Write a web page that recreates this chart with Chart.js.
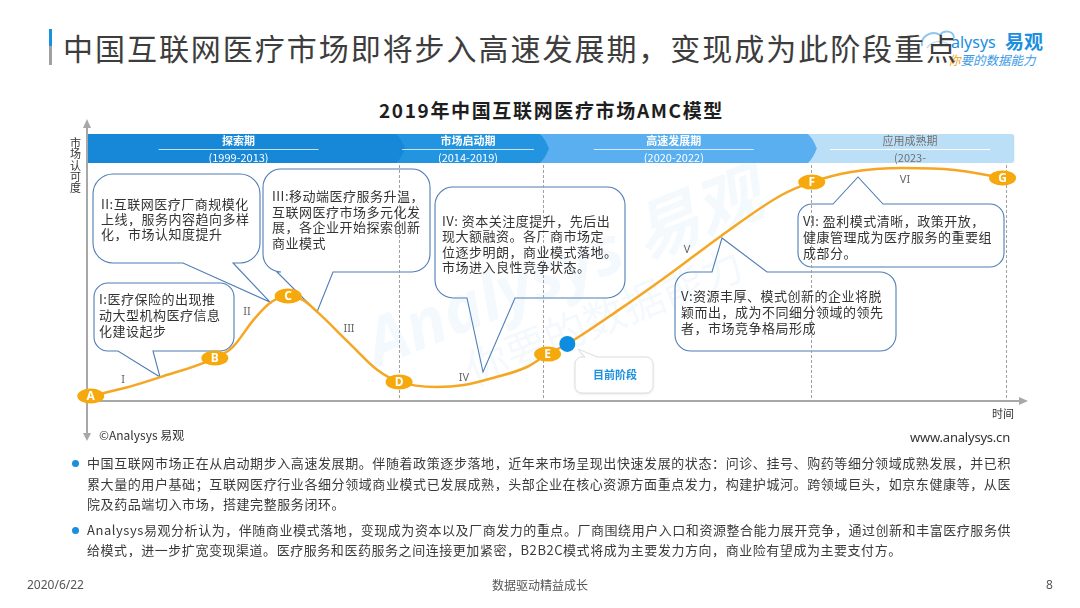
<!DOCTYPE html>
<html><head><meta charset="utf-8">
<script src="https://cdn.jsdelivr.net/npm/chart.js@4.4.1/dist/chart.umd.min.js"></script>
<style>
html,body{margin:0;padding:0;background:#fff;}
body{width:1080px;height:608px;position:relative;overflow:hidden;font-family:"Noto Sans CJK SC","Noto Sans",sans-serif;}
.abs{position:absolute;white-space:nowrap;}
#wrap{position:absolute;left:0;top:0;width:1080px;height:608px;}
.p{font-size:13px;line-height:20px;color:#3a3a3a;left:87px;}
.dot{position:absolute;width:7px;height:7px;border-radius:50%;background:#1a8fe0;}
</style></head><body>

<!-- logo -->
<svg class="abs" style="left:918px;top:26px" width="40" height="26" viewBox="0 0 40 26">
  <path d="M4 20 C2 10, 14 4, 22 9 C26 3, 36 5, 36 12" fill="none" stroke="#8cc6ee" stroke-width="2"/>
  <path d="M9 22 C 14 14, 24 14, 32 19" fill="none" stroke="#b8dcf5" stroke-width="1.5"/>
</svg>
<div class="abs" style="left:951px;top:31px;font-size:16px;line-height:22px;color:#1c8fe0;font-family:'Noto Sans',sans-serif;">alysys</div>
<div class="abs" style="left:1005px;top:29px;font-size:19px;line-height:24px;color:#1c8fe0;font-weight:bold;">易观</div>
<div class="abs" style="left:948px;top:52px;font-size:12.5px;line-height:16px;color:#3c9be6;font-style:italic;"><span style="color:#f0a21e">你</span>要的数据能力</div>

<div class="abs" style="left:49px;top:29px;width:3px;height:17px;background:#1b8fe0"></div>
<div class="abs" style="left:49px;top:46px;width:3px;height:19px;background:#a0a0a0"></div>
<div class="abs" data-w="895" style="left:63px;top:29px;font-size:30px;line-height:36px;color:#3d3d3d;">中国互联网医疗市场即将步入高速发展期，变现成为此阶段重点</div>

<div class="abs" data-w="345" style="left:379px;top:98px;font-size:19px;line-height:24px;color:#1e1e1e;font-weight:bold;">2019年中国互联网医疗市场AMC模型</div>

<div id="wrap"><canvas id="c" width="1080" height="608" style="width:1080px;height:608px"></canvas></div>

<div class="abs" style="left:99px;top:427px;font-size:12px;line-height:16px;color:#333;">©Analysys 易观</div>
<div class="abs" data-w="100" style="left:910px;top:428px;font-size:13px;line-height:18px;color:#333;font-family:'Noto Sans',sans-serif;">www.analysys.cn</div>
<div class="abs" style="left:992px;top:405px;font-size:11px;line-height:16px;color:#333;">时间</div>
<div class="abs" style="left:70px;top:137px;font-size:11px;line-height:11.3px;color:#333;width:12px;white-space:normal;">市<br>场<br>认<br>可<br>度</div>

<div class="dot" style="left:72px;top:459.5px"></div>
<div class="abs p" id="p1" data-w="924" style="top:453px">中国互联网市场正在从启动期步入高速发展期。伴随着政策逐步落地，近年来市场呈现出快速发展的状态：问诊、挂号、购药等细分领域成熟发展，并已积</div>
<div class="abs p" data-w="924" style="top:474px">累大量的用户基础；互联网医疗行业各细分领域商业模式已发展成熟，头部企业在核心资源方面重点发力，构建护城河。跨领域巨头，如京东健康等，从医</div>
<div class="abs p" data-ls="p1" style="top:494px">院及药品端切入市场，搭建完整服务闭环。</div>
<div class="dot" style="left:72px;top:526.5px"></div>
<div class="abs p" id="p4" data-w="924" style="top:520px">Analysys易观分析认为，伴随商业模式落地，变现成为资本以及厂商发力的重点。厂商围绕用户入口和资源整合能力展开竞争，通过创新和丰富医疗服务供</div>
<div class="abs p" data-ls="p4" style="top:540px">给模式，进一步扩宽变现渠道。医疗服务和医药服务之间连接更加紧密，B2B2C模式将成为主要发力方向，商业险有望成为主要支付方。</div>

<div class="abs" style="left:27px;top:577px;font-size:12px;line-height:16px;color:#555;font-family:'Noto Sans',sans-serif;">2020/6/22</div>
<div class="abs" style="left:492px;top:577px;font-size:12px;line-height:16px;color:#555;">数据驱动精益成长</div>
<div class="abs" style="left:1046px;top:577px;font-size:12px;line-height:16px;color:#555;font-family:'Noto Sans',sans-serif;">8</div>

<script>
// ---- data (x: time axis 0-100, y: 市场认可度 0-100) ----
const curveX = [0.4, 4.0, 7.8, 13.6, 15.5, 17.7, 19.6, 21.4, 23.0, 24.5, 27.9, 30.9, 33.2, 37.2, 40.1, 43.2, 46.8, 49.0, 51.1, 56.7, 62.0, 67.6, 73.9, 77.1, 81.3, 86.8, 92.3, 97.4];
const curveY = [1.8, 4.6, 8.5, 15.3, 19.2, 28.8, 35.2, 37.4, 35.9, 31.7, 20.6, 11.0, 6.8, 5.0, 5.7, 8.2, 12.1, 16.7, 20.3, 32.7, 45.2, 59.1, 73.3, 77.9, 81.5, 82.9, 82.2, 79.4];
const milestoneLabels = ['A','B','C','D','E','F','G'];
const milestoneX = [0.4, 13.6, 21.4, 33.2, 49.0, 77.1, 97.4];
const milestoneY = [1.8, 15.3, 37.4, 6.8, 16.7, 77.9, 79.4];
const currentX = [51.1];
const currentY = [20.3];
const currentLabel = '目前阶段';
const phaseNames = ['探索期','市场启动期','高速发展期','应用成熟期'];
const phaseYears = ['(1999-2013)','(2014-2019)','(2020-2022)','(2023-'];
const phaseEnd = [33.2, 48.5, 77.0, 97.8];
const stageLabels = ['I','II','III','IV','V','VI'];
const stageNotes = [
  ['I:医疗保险的出现推','动大型机构医疗信息','化建设起步'],
  ['II:互联网医疗厂商规模化','上线，服务内容趋向多样','化，市场认知度提升'],
  ['III:移动端医疗服务升温，','互联网医疗市场多元化发','展，各企业开始探索创新','商业模式'],
  ['IV: 资本关注度提升，先后出','现大额融资。各厂商市场定','位逐步明朗，商业模式落地。','市场进入良性竞争状态。'],
  ['V:资源丰厚、模式创新的企业将脱','颖而出，成为不同细分领域的领先','者，市场竞争格局形成'],
  ['VI: 盈利模式清晰，政策开放，','健康管理成为医疗服务的重要组','成部分。']
];

// ---- layout (pixels) ----
const stageLabelPos = [[123,380],[247,312],[349,329],[464,378],[687,250],[905,180]];
const noteBoxes = [
  {x:94,y:283,w:140,h:68,r:14,tail:'bottom',t:[118,153],apex:[160,377],tx:99,ty:[299,315,331]},
  {x:93,y:174,w:167,h:89,r:20,tail:'bottom',t:[183,233],apex:[270,302],tx:101,ty:[204,219,234]},
  {x:263,y:169,w:167,h:103,r:18,tail:'bottom',t:[277,333],apex:[317,312],tx:272,ty:[196,212,227,243]},
  {x:435,y:187,w:190,h:111,r:18,tail:'bottom',t:[467,515],apex:[483,372],tx:442,ty:[221,236,252,267]},
  {x:675,y:272,w:221,h:79,r:16,tail:'top',t:[712,767],apex:[722,238],tx:681,ty:[296,312,328]},
  {x:798,y:204,w:206,h:63,r:14,tail:'top',t:[833,883],apex:[858,177],tx:803,ty:[221,237,253]}
];
const band = {top:134, bottom:163, tip:9};
const phaseColors = ['#1787d8','#2394e0','#5aaff0','#bcdff8'];
const phaseText = ['#ffffff','#ffffff','#ffffff','#707070'];

function bubblePath(ctx,b){
  const {x,y,w,h,r}=b;
  ctx.beginPath();
  ctx.moveTo(x+r,y);
  if(b.tail==='top'){ ctx.lineTo(b.t[0],y); ctx.lineTo(b.apex[0],b.apex[1]); ctx.lineTo(b.t[1],y); }
  ctx.lineTo(x+w-r,y);
  ctx.arcTo(x+w,y,x+w,y+r,r);
  ctx.lineTo(x+w,y+h-r);
  ctx.arcTo(x+w,y+h,x+w-r,y+h,r);
  if(b.tail==='bottom'){ ctx.lineTo(b.t[1],y+h); ctx.lineTo(b.apex[0],b.apex[1]); ctx.lineTo(b.t[0],y+h); }
  ctx.lineTo(x+r,y+h);
  ctx.arcTo(x,y+h,x,y+h-r,r);
  ctx.lineTo(x,y+r);
  ctx.arcTo(x,y,x+r,y,r);
  ctx.closePath();
}

const amcPlugin = {
  id:'amc',
  beforeDatasetsDraw(chart){
    const ctx=chart.ctx, xs=chart.scales.x, ca=chart.chartArea;
    ctx.save();

    // phase band
    const segs=[];
    for(let i=0;i<phaseNames.length;i++){
      const x0 = i===0 ? ca.left : xs.getPixelForValue(phaseEnd[i-1]) - 3;
      const xb = xs.getPixelForValue(phaseEnd[i]);
      const x1 = i===phaseNames.length-1 ? xb+6 : xb-3;
      segs.push([x0,x1]);
    }
    const ym=(band.top+band.bottom)/2;
    for(let i=phaseNames.length-1;i>=0;i--){
      const [x0,x1]=segs[i];
      ctx.beginPath();
      ctx.moveTo(x0,band.top); ctx.lineTo(x1,band.top);
      if(i<phaseNames.length-1){ ctx.quadraticCurveTo(x1+band.tip*0.55,band.top+4,x1+band.tip,ym); ctx.quadraticCurveTo(x1+band.tip*0.55,band.bottom-4,x1,band.bottom); }
      else { ctx.arcTo(x1+2,band.top,x1+2,band.top+3,3); ctx.lineTo(x1+2,band.bottom-3); ctx.arcTo(x1+2,band.bottom,x1,band.bottom,3); }
      ctx.lineTo(x0,band.bottom); ctx.closePath();
      ctx.fillStyle=phaseColors[i]; ctx.fill();
    }
    for(let i=0;i<phaseNames.length;i++){
      const [x0,x1]=segs[i]; const c=(x0+x1)/2+(i===0?-3:0);
      const hw=Math.min(80,(x1-x0)/2-6);
      ctx.strokeStyle= i<3 ? 'rgba(255,255,255,0.75)' : 'rgba(255,255,255,0.95)';
      ctx.lineWidth=1;
      ctx.beginPath(); ctx.moveTo(c-hw,149.5); ctx.lineTo(c+hw,149.5); ctx.stroke();
      ctx.fillStyle=phaseText[i]; ctx.textAlign='center'; ctx.textBaseline='middle';
      ctx.font=(i<3?'bold ':'')+'11px "Noto Sans CJK SC"';
      ctx.fillText(phaseNames[i],c,141);
      ctx.font='11px "Noto Sans CJK SC"';
      ctx.fillText(phaseYears[i],c,157.5);
    }

    // callout boxes
    noteBoxes.forEach(b=>{
      bubblePath(ctx,b);
      ctx.fillStyle='#ffffff'; ctx.fill();
      ctx.strokeStyle='#4f7db5'; ctx.lineWidth=1.1; ctx.stroke();
    });

    // watermark (very faint)
    ctx.save();
    ctx.translate(565,272); ctx.rotate(-0.38);
    ctx.fillStyle='rgba(110,175,230,0.075)';
    ctx.textAlign='center'; ctx.textBaseline='middle';
    ctx.font='italic bold 66px "Noto Sans", "Noto Sans CJK SC"';
    ctx.fillText('Analysys 易观',0,0);
    ctx.font='42px "Noto Sans CJK SC"';
    ctx.fillText('你要的数据能力',20,56);
    ctx.restore();

    // current stage box
    const cb={x:575,y:357,w:78,h:36,r:7,tail:'top',t:[585,597],apex:[578,349]};
    ctx.save();
    ctx.shadowColor='rgba(0,0,0,0.12)'; ctx.shadowBlur=3; ctx.shadowOffsetY=1;
    bubblePath(ctx,cb); ctx.fillStyle='#fff'; ctx.fill();
    ctx.restore();
    bubblePath(ctx,cb); ctx.strokeStyle='#dedede'; ctx.lineWidth=1; ctx.stroke();

    // dashed phase lines
    ctx.setLineDash([3,2]); ctx.strokeStyle='#a0a0a0'; ctx.lineWidth=1;
    phaseEnd.forEach(v=>{
      const x=Math.round(xs.getPixelForValue(v))+0.5;
      ctx.beginPath(); ctx.moveTo(x,band.bottom+2); ctx.lineTo(x,ca.bottom); ctx.stroke();
    });
    ctx.setLineDash([]);

    // axes
    ctx.strokeStyle='#a8a8a8'; ctx.fillStyle='#a8a8a8'; ctx.lineWidth=2;
    ctx.beginPath(); ctx.moveTo(ca.left,ca.bottom); ctx.lineTo(ca.right-6,ca.bottom); ctx.stroke();
    ctx.beginPath(); ctx.moveTo(ca.right+1,ca.bottom); ctx.lineTo(ca.right-8,ca.bottom-4); ctx.lineTo(ca.right-8,ca.bottom+4); ctx.closePath(); ctx.fill();
    ctx.beginPath(); ctx.moveTo(ca.left,ca.top+5); ctx.lineTo(ca.left,436); ctx.stroke();
    ctx.beginPath(); ctx.moveTo(ca.left,ca.top-1); ctx.lineTo(ca.left-4,ca.top+8); ctx.lineTo(ca.left+4,ca.top+8); ctx.closePath(); ctx.fill();
    ctx.beginPath(); ctx.moveTo(ca.left,441); ctx.lineTo(ca.left-4,433); ctx.lineTo(ca.left+4,433); ctx.closePath(); ctx.fill();

    // callout texts
    ctx.fillStyle='#333'; ctx.textAlign='left'; ctx.textBaseline='middle';
    ctx.font='13px "Noto Sans CJK SC"';
    try{ ctx.letterSpacing='0.5px'; }catch(e){}
    noteBoxes.forEach((b,i)=>{
      stageNotes[i].forEach((line,j)=>ctx.fillText(line,b.tx,b.ty[j]));
    });
    try{ ctx.letterSpacing='0px'; }catch(e){}
    ctx.fillStyle='#1a8fe0'; ctx.font='bold 11px "Noto Sans CJK SC"'; ctx.textAlign='center';
    ctx.fillText(currentLabel,615,375);

    // stage numerals
    ctx.fillStyle='#666'; ctx.font='11px "Noto Sans", "DejaVu Sans"'; ctx.textAlign='center';
    stageLabels.forEach((s,i)=>ctx.fillText(s,stageLabelPos[i][0],stageLabelPos[i][1]));
    ctx.restore();
  },
  afterDatasetDraw(chart,args){
    if(args.index!==1) return;
    const ctx=chart.ctx, meta=chart.getDatasetMeta(1);
    ctx.save();
    meta.data.forEach((pt,i)=>{
      ctx.beginPath(); ctx.ellipse(pt.x,pt.y,13.5,7.5,0,0,Math.PI*2);
      ctx.fillStyle='#f6a90c'; ctx.fill();
      ctx.fillStyle='#fff'; ctx.font='bold 12px "Noto Sans", "DejaVu Sans"';
      ctx.textAlign='center'; ctx.textBaseline='middle';
      ctx.fillText(milestoneLabels[i],pt.x,pt.y+0.5);
    });
    ctx.restore();
  }
};

new Chart(document.getElementById('c'),{
  type:'line',
  data:{datasets:[
    {label:currentLabel,data:currentX.map((x,i)=>({x,y:currentY[i]})),showLine:false,pointRadius:8,pointHoverRadius:8,backgroundColor:'#0d8ddf',borderColor:'#0d8ddf',borderWidth:0},
    {label:'节点',data:milestoneX.map((x,i)=>({x,y:milestoneY[i]})),showLine:false,pointRadius:0,pointHoverRadius:0},
    {label:'AMC曲线',data:curveX.map((x,i)=>({x,y:curveY[i]})),borderColor:'#f5a623',borderWidth:2.5,pointRadius:0,pointHoverRadius:0,fill:false,cubicInterpolationMode:'monotone',clip:false}
  ]},
  options:{
    responsive:false,animation:false,events:[],
    layout:{padding:{left:87,right:53,top:120,bottom:207}},
    scales:{x:{type:'linear',min:0,max:100,display:false},y:{min:0,max:100,display:false}},
    plugins:{legend:{display:false},tooltip:{enabled:false}}
  },
  plugins:[amcPlugin]
});

function fitAll(){
  document.querySelectorAll('[data-w]').forEach(el=>{
    el.style.letterSpacing='0px';
    const n=[...el.textContent].length;
    const nat=el.getBoundingClientRect().width;
    el.style.letterSpacing=((parseFloat(el.dataset.w)-nat)/n)+'px';
  });
  document.querySelectorAll('[data-ls]').forEach(el=>{
    el.style.letterSpacing=document.getElementById(el.dataset.ls).style.letterSpacing;
  });
}
fitAll();
if(document.fonts&&document.fonts.ready) document.fonts.ready.then(fitAll);
</script>
</body></html>
